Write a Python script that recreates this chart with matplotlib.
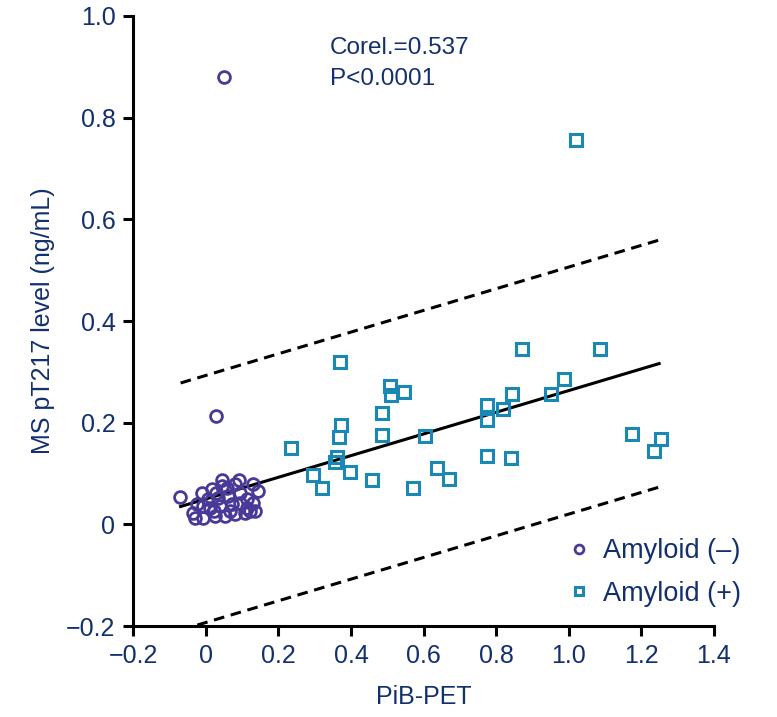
import numpy as np
import matplotlib
matplotlib.use('Agg')
import matplotlib.pyplot as plt

plt.rcParams['font.family'] = ['Liberation Sans', 'DejaVu Sans']

# 数据：Amyloid (-) 组（圆圈）
neg_x = [0.050, 0.028, -0.071, 0.044, 0.044, 0.091, 0.130, 0.143, -0.011, 0.017,
         0.061, -0.025, -0.036, -0.030, -0.008, 0.025, 0.052, 0.080, 0.108, 0.121,
         0.130, 0.113, 0.094, 0.072, 0.039, 0.011, -0.008, 0.006, 0.033, 0.058,
         0.113, 0.022, 0.066, 0.094, 0.135, 0.028, 0.080]
neg_y = [0.880, 0.214, 0.054, 0.088, 0.076, 0.088, 0.080, 0.066, 0.062, 0.070,
         0.056, 0.040, 0.023, 0.013, 0.013, 0.017, 0.017, 0.021, 0.023, 0.027,
         0.042, 0.050, 0.042, 0.040, 0.036, 0.033, 0.036, 0.050, 0.052, 0.072,
         0.033, 0.027, 0.027, 0.062, 0.027, 0.062, 0.080]

# 数据：Amyloid (+) 组（方块）
pos_x = [1.021, 0.370, 0.872, 1.087, 0.508, 0.510, 0.546, 0.988, 0.952, 0.844,
         0.775, 0.820, 0.775, 0.486, 0.373, 0.368, 0.486, 0.604, 0.235, 0.362,
         0.357, 0.397, 0.295, 0.320, 0.458, 0.571, 0.637, 0.670, 0.775, 0.841,
         1.175, 1.254, 1.236]
pos_y = [0.756, 0.320, 0.344, 0.344, 0.273, 0.255, 0.261, 0.285, 0.257, 0.257,
         0.235, 0.226, 0.206, 0.220, 0.196, 0.172, 0.176, 0.174, 0.150, 0.133,
         0.123, 0.103, 0.098, 0.072, 0.087, 0.072, 0.110, 0.089, 0.135, 0.131,
         0.178, 0.168, 0.144]

# 回归线与预测带
fit_slope = 0.213
fit_intercept = 0.050
band_half = 0.243
fit_xrange = [-0.07, 1.25]

x_ticks = [-0.2, 0, 0.2, 0.4, 0.6, 0.8, 1.0, 1.2, 1.4]
x_ticklabels = ['\u22120.2', '0', '0.2', '0.4', '0.6', '0.8', '1.0', '1.2', '1.4']
y_ticks = [-0.2, 0, 0.2, 0.4, 0.6, 0.8, 1.0]
y_ticklabels = ['\u22120.2', '0', '0.2', '0.4', '0.6', '0.8', '1.0']

navy = '#13306e'
purple = '#4a3a98'
teal = '#1a88b4'

fig = plt.figure(figsize=(7.77, 7.17), dpi=100)
ax = fig.add_axes([0.1718, 0.1269, 0.7465, 0.8508])

xs = np.linspace(fit_xrange[0], fit_xrange[1], 50)
ys = fit_intercept + fit_slope * xs
ax.plot(xs, ys, color='black', lw=2.2, zorder=1)
ax.plot(xs, ys + band_half, color='black', lw=2.2, ls=(0, (3.5, 2.2)), zorder=1)
ax.plot(xs, ys - band_half, color='black', lw=2.2, ls=(0, (3.5, 2.2)), zorder=1)

ax.plot(neg_x, neg_y, ls='none', marker='o', ms=8.5, mfc='none', mec=purple,
        mew=2.0, label='Amyloid (\u2013)', zorder=3)
ax.plot(pos_x, pos_y, ls='none', marker='s', ms=8.5, mfc='none', mec=teal,
        mew=2.2, label='Amyloid (+)', zorder=3)

ax.set_xlim(-0.2, 1.4)
ax.set_ylim(-0.2, 1.0)
ax.set_xticks(x_ticks)
ax.set_xticklabels(x_ticklabels)
ax.set_yticks(y_ticks)
ax.set_yticklabels(y_ticklabels)

for s in ['top', 'right']:
    ax.spines[s].set_visible(False)
for s in ['left', 'bottom']:
    ax.spines[s].set_linewidth(2.2)
ax.tick_params(length=7, width=2.2, labelsize=18, labelcolor=navy, pad=6)

ax.set_xlabel('PiB-PET', fontsize=18, color=navy, labelpad=12)
ax.set_ylabel('MS pT217 level (ng/mL)', fontsize=18, color=navy, labelpad=8)

ax.text(0.342, 0.965, 'Corel.=0.537\nP<0.0001', fontsize=17.5, color=navy,
        va='top', ha='left', linespacing=1.5, transform=ax.get_xaxis_transform())

leg = ax.legend(loc='lower right', bbox_to_anchor=(1.09, -0.008), frameon=False,
                fontsize=19.5, handletextpad=0.35, handlelength=1.1, labelspacing=0.6,
                markerscale=0.75)
for t in leg.get_texts():
    t.set_color(navy)

fig.savefig('out.png', dpi=100)
plt.close(fig)
